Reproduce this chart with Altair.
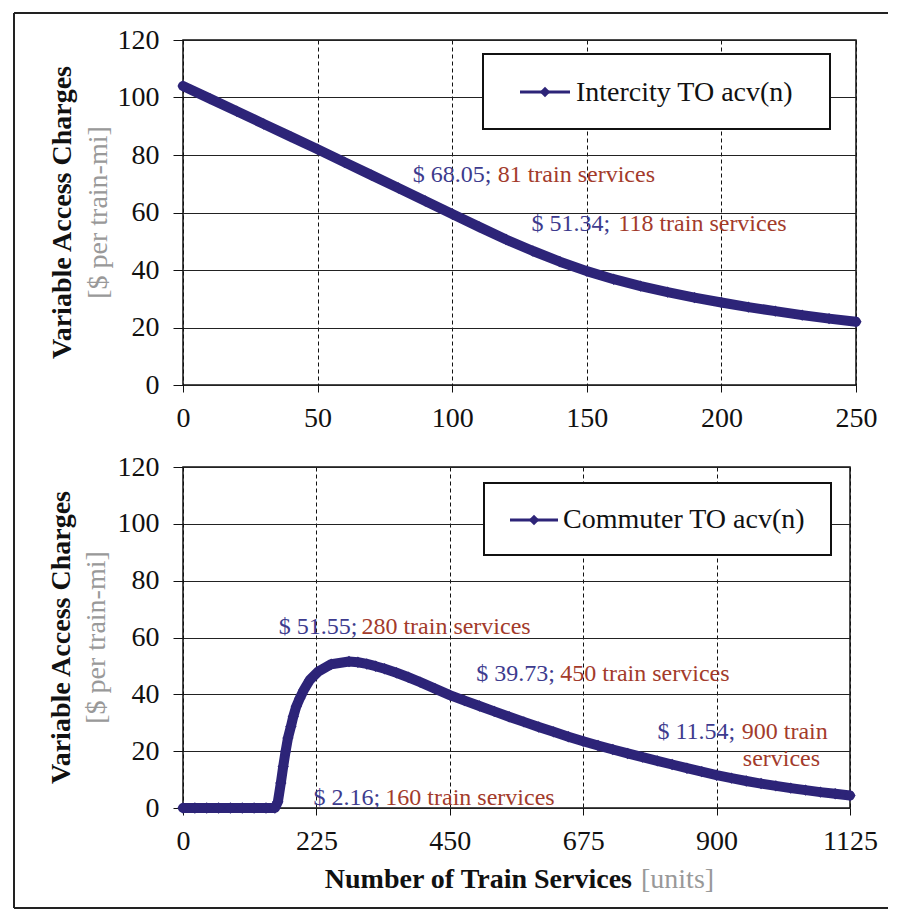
import altair as alt
import pandas as pd

# ---------------- data ----------------
ic_n = [0, 10, 20, 30, 40, 50, 60, 70, 80, 90, 100, 110, 120, 130, 140, 150,
        160, 170, 180, 190, 200, 210, 220, 230, 240, 250]
ic_v = [104.0, 99.6, 95.2, 90.8, 86.4, 82.0, 77.5, 73.0, 68.5, 64.0, 59.5, 55.0,
        50.6, 46.6, 42.9, 39.6, 36.8, 34.4, 32.3, 30.4, 28.7, 27.1, 25.7, 24.3,
        23.1, 22.0]

cm_n = [0, 20, 40, 60, 80, 100, 120, 140, 155, 160, 165, 169, 173, 177, 182, 186,
        191, 197, 204, 214, 228, 250, 280, 295, 310, 325, 340, 360, 380, 400, 425,
        450, 475, 500, 525, 550, 575, 600, 625, 650, 675, 700, 725, 750, 775, 800,
        825, 850, 875, 900, 925, 950, 975, 1000, 1025, 1050, 1075, 1100, 1125]
cm_v = [0, 0, 0, 0, 0, 0, 0, 0, 0, 2.16, 8.8, 14.6, 19.9, 24.6, 28.7, 32.2,
        35.7, 38.6, 41.6, 45.1, 48.0, 50.6, 51.55, 51.3, 50.7, 49.9, 49.0, 47.6,
        46.0, 44.3, 42.0, 39.73, 37.8, 35.9, 34.0, 32.1, 30.3, 28.5, 26.8, 25.1,
        23.5, 22.0, 20.6, 19.2, 17.9, 16.6, 15.3, 14.0, 12.8, 11.54, 10.5, 9.5,
        8.6, 7.8, 7.0, 6.3, 5.6, 5.0, 4.4]

y_ticks = [0, 20, 40, 60, 80, 100, 120]
ic_ticks = [0, 50, 100, 150, 200, 250]
cm_ticks = [0, 225, 450, 675, 900, 1125]

ic_ann_text = ["$ 68.05;", "81 train services", "$ 51.34;", "118 train services"]
ic_ann_n = [85.3, 116.9, 129.5, 161.7]
ic_ann_v = [73.1, 73.1, 56.1, 56.1]
ic_ann_kind = ["cost", "count", "cost", "count"]

cm_ann_text = ["$ 51.55;", "280 train services", "$ 39.73;", "450 train services",
               "$ 11.54;", "900 train", "services", "$ 2.16;", "160 train services"]
cm_ann_n = [161.5, 300.9, 494.7, 636.3, 800.3, 942.5, 944.2, 220.0, 341.3]
cm_ann_v = [63.7, 63.7, 47.3, 47.3, 26.7, 26.7, 17.3, 3.5, 3.5]
cm_ann_kind = ["cost", "count", "cost", "count", "cost", "count", "count", "cost", "count"]

# ---------------- style ----------------
LINE = "#2d2478"
BLUE = "#3d3b8e"
RED = "#a33b2b"
INK = "#111111"
GRAY = "#999999"
FONT = "Liberation Serif"


def make_panel(n, v, ann_text, ann_n, ann_v, ann_kind, xmax, xticks, label, W, H,
               box, lline, ltext, title_x, xtitle=False):
    main = pd.DataFrame({"n": n, "v": v})
    ann = pd.DataFrame({"n": ann_n, "v": ann_v, "text": ann_text, "kind": ann_kind})
    xenc = alt.X("n:Q", scale=alt.Scale(domain=[0, xmax], nice=False, zero=False),
                 axis=alt.Axis(values=xticks, title=None, grid=True, gridDash=[4, 3],
                               gridColor=INK, gridWidth=1, tickSize=7, tickColor=INK,
                               labelFontSize=28, labelFont=FONT, labelColor=INK,
                               labelPadding=12, domain=False, labelFlush=False,
                               labelOverlap=False, format="d"))
    yenc = alt.Y("v:Q", scale=alt.Scale(domain=[0, 120], nice=False),
                 axis=alt.Axis(values=y_ticks, title=None, grid=True, gridColor="#222222",
                               gridWidth=1, tickSize=10, tickColor=INK,
                               labelFontSize=28, labelFont=FONT, labelColor=INK,
                               labelPadding=14, domain=False, labelFlush=False,
                               labelOverlap=False, format="d"))
    base = alt.Chart(main).encode(x=xenc, y=yenc)
    line = base.mark_line(color=LINE, strokeWidth=10, strokeJoin="round", strokeCap="round")
    pts = base.mark_point(shape="diamond", filled=True, size=130, color=LINE, opacity=1)
    texts = alt.Chart(ann).mark_text(align="left", baseline="middle", fontSize=24,
                                     font=FONT).encode(
        x="n:Q", y="v:Q", text="text:N",
        color=alt.Color("kind:N", scale=alt.Scale(domain=["cost", "count"], range=[BLUE, RED]),
                        legend=None))
    lg = pd.DataFrame({"label": [label]})
    lbox = alt.Chart(lg).mark_rect(fill="white", stroke=INK, strokeWidth=2).encode(
        x=alt.value(box[0]), x2=alt.value(box[1]), y=alt.value(box[2]), y2=alt.value(box[3]))
    lrule = alt.Chart(lg).mark_rule(color=LINE, strokeWidth=3).encode(
        x=alt.value(lline[0]), x2=alt.value(lline[1]), y=alt.value(lline[2]))
    ldia = alt.Chart(lg).mark_point(shape="diamond", filled=True, size=110, color=LINE,
                                    opacity=1).encode(
        x=alt.value((lline[0] + lline[1]) / 2), y=alt.value(lline[2]))
    ltxt = alt.Chart(lg).mark_text(align="left", baseline="middle", fontSize=28, font=FONT,
                                   color=INK).encode(
        x=alt.value(ltext[0]), y=alt.value(ltext[1]), text="label:N")
    t1 = alt.Chart(pd.DataFrame({"t": ["Variable Access Charges"]})).mark_text(
        angle=270, fontSize=28, fontWeight="bold", font=FONT, color=INK,
        align="center", baseline="middle").encode(
        x=alt.value(title_x[0]), y=alt.value(H / 2), text="t:N")
    t2 = alt.Chart(pd.DataFrame({"t": ["[$ per train-mi]"]})).mark_text(
        angle=270, fontSize=28, font=FONT, color=GRAY,
        align="center", baseline="middle").encode(
        x=alt.value(title_x[1]), y=alt.value(H / 2), text="t:N")
    layers = [line, pts, texts, lbox, lrule, ldia, ltxt, t1, t2]
    if xtitle:
        xt1 = alt.Chart(pd.DataFrame({"t": ["Number of Train Services"]})).mark_text(
            fontSize=28, fontWeight="bold", font=FONT, color=INK,
            align="right", baseline="middle").encode(
            x=alt.value(449), y=alt.value(413), text="t:N")
        xt2 = alt.Chart(pd.DataFrame({"t": ["[units]"]})).mark_text(
            fontSize=28, font=FONT, color=GRAY,
            align="left", baseline="middle").encode(
            x=alt.value(458), y=alt.value(413), text="t:N")
        layers += [xt1, xt2]
        # outer frame (decoration): left, top and bottom edges of the figure border
        fr = pd.DataFrame({"k": [1]})
        f_top = alt.Chart(fr).mark_rule(color="#222222", strokeWidth=2).encode(
            x=alt.value(-169), x2=alt.value(705), y=alt.value(-454))
        f_left = alt.Chart(fr).mark_rule(color="#222222", strokeWidth=2).encode(
            x=alt.value(-169), y=alt.value(-454), y2=alt.value(441))
        f_bot = alt.Chart(fr).mark_rule(color="#222222", strokeWidth=2).encode(
            x=alt.value(-169), x2=alt.value(705), y=alt.value(441))
        layers += [f_top, f_left, f_bot]
    return alt.layer(*layers).properties(width=W, height=H)


top = make_panel(ic_n, ic_v, ic_ann_text, ic_ann_n, ic_ann_v, ic_ann_kind, 250, ic_ticks,
                 "Intercity TO acv(n)", 673, 345,
                 box=[300, 647, 14, 89], lline=[337, 387, 52], ltext=[393, 53],
                 title_x=[-120, -84])
bottom = make_panel(cm_n, cm_v, cm_ann_text, cm_ann_n, cm_ann_v, cm_ann_kind, 1125, cm_ticks,
                    "Commuter TO acv(n)", 667, 341,
                    box=[301, 648, 16, 88], lline=[327, 375, 53], ltext=[380, 53],
                    title_x=[-121, -86], xtitle=True)

chart = alt.vconcat(top, bottom, spacing=82, bounds="flush").properties(
    padding={"left": 4, "top": 3, "right": 0, "bottom": 0}
).configure_view(stroke=INK, strokeWidth=1.5)

chart.save("out.html", embed_options={"renderer": "svg", "actions": False})
